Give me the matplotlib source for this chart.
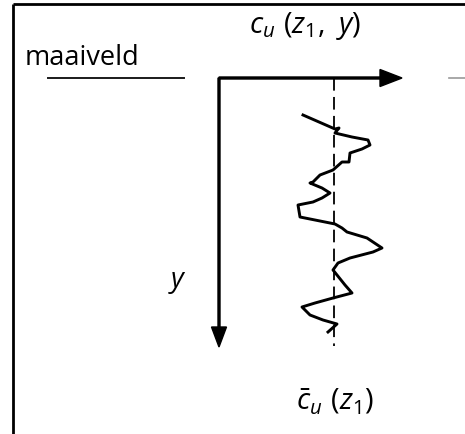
import matplotlib.pyplot as plt

plt.rcParams['mathtext.fontset'] = 'custom'
plt.rcParams['mathtext.rm'] = 'Open Sans'
plt.rcParams['mathtext.it'] = 'Open Sans:italic'
plt.rcParams['font.family'] = ['Open Sans', 'DejaVu Sans']

# undrained shear strength c_u(z1, y) along depth y (drawing units)
cu = [303, 335, 339, 335, 352, 368, 370, 362, 350, 349, 342, 333, 320, 313, 310,
      322, 330, 322, 313, 298, 300, 320, 335, 342, 347, 367, 382, 373, 350, 338,
      333, 337, 345, 352, 333, 315, 302, 310, 323, 337, 328]
depth = [115, 129, 128, 133, 137, 140, 145, 149, 153, 162, 162, 170, 175, 182, 183,
         188, 193, 198, 202, 205, 217, 221, 224, 228, 232, 238, 248, 252, 258, 263,
         270, 275, 285, 293, 298, 303, 307, 315, 320, 324, 332]
cu_mean = 334

ground_level = 78
origin_x = 219
depth_end = 347
cu_axis_end = 402

fig = plt.figure(figsize=(4.65, 4.34), dpi=100)
ax = fig.add_axes([0, 0, 1, 1])
ax.set_xlim(0, 465)
ax.set_ylim(434, 0)
ax.axis('off')

# frame (left and top only)
ax.plot([13, 13], [434, 4], color='black', lw=2.0, solid_capstyle='butt')
ax.plot([13, 465], [4, 4], color='black', lw=2.0, solid_capstyle='butt')

# ground surface
ax.plot([48, 184], [ground_level, ground_level], color='#1a1a1a', lw=1.4)
ax.plot([449, 465], [ground_level, ground_level], color='#999999', lw=1.2)
ax.text(25, 65, 'maaiveld', fontsize=19.5, ha='left', va='baseline')

# axes arrows
ax.arrow(origin_x, ground_level, cu_axis_end - origin_x, 0, width=2.0,
         head_width=17, head_length=22, length_includes_head=True,
         color='black')
ax.arrow(origin_x, ground_level, 0, depth_end - ground_level, width=2.0,
         head_width=15, head_length=20, length_includes_head=True,
         color='black')

# mean value and profile
ax.plot([cu_mean, cu_mean], [ground_level, 346], color='black', lw=1.3,
        dashes=(7, 3.5))
ax.plot(cu, depth, color='black', lw=2.1, solid_joinstyle='round')

ax.text(305, 33, r'$c_u\ (z_1,\ y)$', fontsize=21, ha='center', va='baseline')
ax.text(177, 287, r'$y$', fontsize=20, ha='center', va='baseline')
ax.text(335, 410, r'$\bar{c}_u\ (z_1)$', fontsize=21, ha='center',
        va='baseline')

fig.savefig('out.png', dpi=100)
